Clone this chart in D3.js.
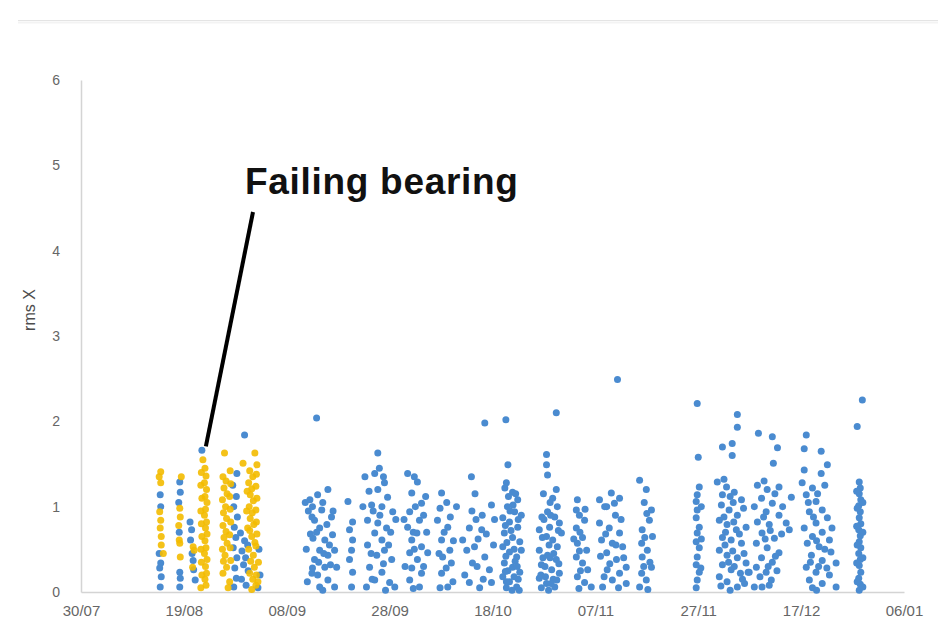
<!DOCTYPE html>
<html>
<head>
<meta charset="utf-8">
<script src="https://cdn.jsdelivr.net/npm/d3@7"></script>
<style>
  html, body { margin: 0; padding: 0; background: #ffffff; }
  svg { display: block; }
</style>
</head>
<body>
<svg id="chart" width="938" height="634"></svg>
<script>
// Measurement window: days counted from 30/07
const startDate = "2015-07-30";
const endDate = "2016-01-06";
const tickDates = ["2015-07-30", "2015-08-19", "2015-09-08", "2015-09-28", "2015-10-18",
                   "2015-11-07", "2015-11-27", "2015-12-17", "2016-01-06"];
const yTicks = [0, 1, 2, 3, 4, 5, 6];
const yLabel = "rms X";
const annotationText = "Failing bearing";

// Failing bearing readings: [day after start, rms X]
const failingPoints = [
  [15.5,1.41],[15.5,1.28],[15.3,0.94],[15.5,0.84],[15.4,0.75],[15.6,0.55],
  [15.2,1.35],[15.6,0.65],[16.0,0.45],
  [19.2,0.98],[19.3,0.88],[19.1,0.61],[19.2,0.57],[19.3,0.41],[19.5,1.35],[19.0,0.78],
  [21.8,0.53],[22.0,0.49],[21.7,0.29],
  [23.7,1.55],[24.1,1.45],[24.3,1.36],[24.0,1.28],[24.4,1.20],[24.1,1.12],[24.5,1.05],
  [24.2,0.97],[24.0,0.90],[24.4,0.82],[24.2,0.75],[24.5,0.68],[24.1,0.60],[24.3,0.52],
  [24.0,0.45],[24.5,0.38],[24.2,0.30],[24.4,0.22],[24.1,0.15],[24.3,0.08],
  [23.4,1.40],[23.3,1.25],[23.5,1.10],[23.3,0.95],[23.4,0.80],[23.5,0.65],[23.3,0.50],
  [23.4,0.35],[23.5,0.20],[23.3,0.05],
  [27.9,1.63],[27.6,1.35],[28.2,1.30],[27.8,1.22],[28.4,1.15],[27.5,1.08],[28.1,1.00],
  [27.7,0.93],[28.3,0.86],[27.6,0.78],[28.2,0.71],[27.8,0.64],[28.4,0.57],[27.5,0.50],
  [28.0,0.43],[27.7,0.36],[28.3,0.29],[27.6,0.22],
  [29.0,1.42],[29.1,1.27],[28.9,1.12],[29.0,0.97],[29.1,0.82],[28.9,0.67],[29.0,0.52],
  [29.1,0.37],[28.9,0.12],[28.6,0.05],
  [33.8,1.63],[31.5,1.51],[34.2,1.49],[32.8,1.42],[33.4,1.35],[32.6,1.28],[33.2,1.21],
  [32.9,1.14],[33.5,1.07],[32.7,1.00],[33.3,0.93],[32.9,0.86],[33.6,0.79],[32.8,0.72],
  [33.2,0.65],[33.8,0.58],[32.6,0.50],[33.5,0.43],[33.0,0.36],[33.7,0.29],[32.8,0.22],
  [33.4,0.15],[34.0,0.08],[33.2,0.03],[34.5,0.35],[34.4,0.12],
  [34.1,1.38],[34.0,1.24],[34.2,1.10],[34.0,0.96],[34.1,0.82],[34.2,0.68],[34.0,0.54],
  [34.1,0.20],[32.3,1.18],[32.2,0.95],[32.4,0.75]
];

// Healthy bearings, August run
const healthyAug = [
  [15.4,1.14],[15.5,0.34],[15.3,0.28],[15.6,0.18],[15.4,0.06],[15.5,1.00],[15.2,0.45],
  [19.2,1.29],[19.3,1.17],[19.1,0.70],[19.2,0.23],[19.3,0.16],[19.2,0.06],[19.0,1.05],
  [21.2,0.82],[21.5,0.73],[21.3,0.61],[21.8,0.37],[21.9,0.26],[22.2,0.14],[21.6,0.45],
  [23.5,1.66],[30.3,1.39],[31.8,1.84],
  [29.5,1.25],[30.2,1.12],[29.7,1.00],[30.4,0.88],[29.8,0.76],[30.1,0.64],[29.6,0.52],
  [30.3,0.40],[29.9,0.28],[30.2,0.16],[29.7,0.06],
  [31.0,0.69],[31.8,0.60],[32.4,0.55],[31.3,0.48],[32.0,0.40],[31.6,0.32],[32.5,0.25],
  [31.2,0.15],[32.1,0.08],[34.6,0.50],[34.8,0.20],[34.4,0.05]
];

// Healthy bearings, September
const healthySep = [
  [45.8,2.04],[43.6,1.05],[43.8,0.50],[44.0,0.12],
  [44.5,1.08],[46.0,1.14],[48.0,1.20],[46.8,0.96],[48.7,0.88],[45.4,0.84],[46.4,0.75],
  [45.1,0.63],[47.4,0.61],[48.9,0.67],[46.4,0.49],[48.0,0.43],[45.4,0.38],[47.4,0.29],
  [46.0,0.20],[48.0,0.14],[49.3,0.06],[46.4,0.06],[44.9,0.22],[49.7,0.29],[49.3,0.49],
  [44.9,0.88],[47.8,0.79],
  [44.2,0.95],[45.0,1.00],[47.0,1.05],[45.8,0.70],[47.2,0.45],[48.5,0.32],[45.0,0.28],
  [47.0,0.02],[49.0,0.95],[46.2,0.35],[48.3,0.55],[44.6,0.68],
  [51.9,1.06],[52.8,0.82],[52.2,0.73],[52.8,0.61],[52.6,0.49],[52.2,0.38],[52.8,0.23],[52.6,0.06],
  [57.7,1.63],[55.2,1.35],[57.1,1.39],[59.0,1.28],[57.7,1.20],[59.6,1.11],[56.5,1.02],
  [58.5,1.00],[60.6,0.94],[55.7,0.84],[57.7,0.81],[59.4,0.75],[57.1,0.69],[58.5,0.61],
  [55.7,0.55],[59.0,0.49],[57.5,0.43],[60.4,0.38],[56.1,0.29],[58.5,0.23],[57.1,0.14],
  [60.0,0.11],[55.5,0.06],[61.0,0.06],[58.1,0.90],
  [56.0,1.18],[58.8,1.35],[56.8,0.95],[60.2,0.70],[59.8,0.55],[56.4,0.45],[58.8,0.33],
  [61.2,0.85],[56.6,0.15],[59.2,0.02],[58.0,1.45],[54.8,1.00]
];

// Healthy bearings, early-to-mid October
const healthyOct = [
  [63.5,1.39],[65.4,1.29],[64.3,1.16],[66.2,1.04],[63.9,0.94],[65.8,0.84],[63.5,0.76],
  [65.3,0.69],[64.3,0.61],[66.2,0.53],[63.9,0.46],[65.4,0.38],[64.3,0.28],[66.2,0.22],
  [63.9,0.14],[65.8,0.06],[67.2,0.70],[67.4,0.46],
  [64.8,1.35],[65.0,1.00],[64.6,0.70],[66.6,0.90],[64.8,0.50],[66.6,0.30],[64.6,0.04],
  [67.0,1.12],[62.8,0.85],[63.0,0.30],
  [70.1,1.16],[71.1,1.05],[69.3,0.84],[71.3,0.76],[70.1,0.61],[71.7,0.49],[70.3,0.41],
  [72.0,0.34],[70.1,0.22],[71.3,0.06],
  [69.8,0.98],[71.8,0.88],[70.6,0.70],[72.4,0.60],[69.6,0.45],[71.0,0.28],[72.3,0.12],
  [69.8,0.05],[73.0,1.00],
  [78.5,1.98],[75.9,1.35],[79.8,1.02],[75.5,0.75],[77.9,0.73],[75.0,0.49],[76.5,0.53],
  [76.1,0.34],[78.5,0.41],[79.4,0.26],[75.5,0.11],[79.8,0.11],[74.2,0.61],[74.6,0.20],
  [77.5,0.05],[78.0,0.90],
  [76.8,0.85],[77.2,0.62],[76.0,0.95],[78.8,0.68],[77.0,0.30],[80.2,0.55],[78.2,0.15],
  [80.4,0.85],[76.6,1.15],
  [82.6,2.02],[83.0,1.49],[82.7,1.28],[83.9,1.17],[84.9,1.08],[82.9,1.00],[84.3,0.94],
  [82.0,0.87],[83.3,0.82],[84.9,0.76],[82.3,0.69],[83.9,0.64],[85.3,0.59],[82.0,0.53],
  [83.3,0.47],[84.7,0.41],[82.3,0.34],[83.9,0.29],[85.3,0.23],[82.0,0.18],[83.3,0.12],
  [84.7,0.06],[82.7,0.05],[85.6,0.90],[85.6,0.49],[83.1,1.12],[84.0,1.02],[83.6,0.72],
  [82.8,0.58],[84.4,0.36],[83.0,0.25],[85.0,0.15],[83.8,0.02],
  [82.4,1.22],[84.5,1.15],[83.4,0.95],[85.0,0.85],[82.5,0.78],[84.2,0.50],[82.6,0.42],
  [84.8,0.30],[82.5,0.24],[84.2,0.18],[82.7,0.12],[85.2,0.02]
];

// Healthy bearings, late October to mid November
const healthyNov = [
  [92.4,2.10],[90.5,1.61],[90.5,1.49],[90.7,1.37],
  [92.4,1.20],[91.7,1.10],[92.6,1.00],[90.7,0.94],[89.1,0.73],[92.1,0.88],[93.0,0.81],
  [91.1,0.76],[89.7,0.64],[91.7,0.61],[92.6,0.53],[89.1,0.49],[90.7,0.43],[92.4,0.38],
  [89.5,0.32],[91.5,0.26],[93.0,0.22],[89.1,0.16],[90.5,0.10],[92.1,0.06],[89.5,0.05],
  [93.4,0.69],[90.0,0.85],[91.0,0.55],[90.2,0.30],[91.8,0.15],[90.9,0.02],[91.2,1.05],[89.8,0.40],
  [89.9,1.15],[91.3,0.90],[92.8,0.72],[89.6,0.88],[91.9,0.45],[90.5,0.65],[92.9,0.33],
  [89.4,0.20],[91.2,0.40],[92.5,0.14],[90.3,0.18],[91.4,0.10],
  [96.5,1.08],[96.3,0.96],[97.9,0.84],[96.3,0.75],[97.5,0.64],[96.5,0.57],[98.3,0.49],
  [96.3,0.41],[97.5,0.34],[98.5,0.26],[96.5,0.18],[97.9,0.11],[99.2,0.06],
  [96.9,0.90],[97.0,0.70],[96.9,0.48],[97.1,0.25],[96.8,0.04],[98.0,0.97],[95.8,0.62],
  [104.3,2.49],[100.8,1.08],[103.1,1.16],[104.7,1.10],[102.2,1.00],[103.7,1.04],[100.8,0.81],
  [102.7,0.75],[104.7,0.69],[101.2,0.61],[103.3,0.57],[105.3,0.53],[102.2,0.46],[104.1,0.38],
  [106.0,0.29],[102.3,0.26],[104.7,0.22],[103.3,0.14],[106.0,0.10],[101.4,0.06],
  [101.8,1.00],[103.9,0.90],[102.0,0.68],[104.0,0.55],[101.0,0.42],[105.5,0.40],[102.8,0.33],
  [104.5,0.05],[101.7,0.18],[105.0,0.85],
  [108.6,1.31],[109.9,1.20],[110.5,0.84],[109.1,0.73],[111.1,0.65],[109.0,0.57],[110.1,0.49],
  [109.1,0.41],[110.9,0.29],[109.0,0.22],[109.9,0.14],[108.6,0.06],[110.9,0.96],
  [109.5,1.05],[110.0,0.92],[109.6,0.64],[110.6,0.35],[109.4,0.30],[110.2,0.03]
];

// Healthy bearings, late November to end of December
const healthyDec = [
  [119.8,2.21],[120.0,1.58],
  [120.2,1.23],[119.8,1.14],[119.6,1.06],[119.8,0.96],[119.6,0.87],[120.2,0.76],[119.8,0.69],
  [119.6,0.59],[120.2,0.52],[119.8,0.41],[119.6,0.32],[120.2,0.23],[119.8,0.14],[119.6,0.05],
  [120.6,1.00],[120.6,0.62],[120.5,0.28],
  [127.6,2.08],[127.6,1.93],[124.7,1.70],[126.6,1.74],[126.6,1.60],
  [123.7,1.29],[125.5,1.23],[124.7,1.14],[127.0,1.17],[128.4,1.08],[124.5,1.02],[126.0,0.96],
  [127.6,0.90],[124.1,0.84],[125.6,0.79],[127.4,0.73],[129.3,0.76],[124.7,0.64],[126.4,0.61],
  [128.4,0.57],[124.1,0.49],[125.6,0.43],[127.6,0.40],[129.3,0.34],[124.7,0.32],[126.4,0.26],
  [124.1,0.18],[125.6,0.12],[127.6,0.06],[129.9,0.23],[126.8,1.05],[125.0,0.88],[128.0,0.68],
  [125.2,0.55],[127.0,0.30],[128.6,0.15],[126.2,0.02],
  [125.0,1.32],[126.2,1.12],[128.8,0.98],[126.9,0.82],[125.3,0.70],[126.7,0.48],[128.9,0.45],
  [125.9,0.35],[128.2,0.22],[124.4,0.07],[129.0,0.10],
  [131.7,1.86],[134.4,1.82],[135.4,1.69],[134.6,1.51],
  [131.5,1.25],[133.4,1.20],[135.7,1.23],[132.3,1.10],[134.4,1.04],[130.9,1.00],[133.2,0.94],
  [135.7,0.90],[131.5,0.82],[133.8,0.79],[137.1,0.81],[132.4,0.69],[134.8,0.63],[131.3,0.57],
  [133.4,0.52],[135.7,0.46],[132.3,0.40],[134.4,0.35],[131.3,0.29],[133.2,0.23],[129.7,0.23],
  [132.0,0.18],[134.2,0.14],[132.4,0.06],[130.9,0.06],[137.7,0.73],[138.1,1.11],
  [132.8,1.30],[134.9,1.15],[132.7,0.88],[134.0,0.72],[136.2,0.68],[133.0,0.62],[135.0,0.42],
  [133.6,0.30],[135.3,0.25],[133.8,0.08],[136.4,1.00],
  [141.0,1.84],[140.6,1.68],[143.9,1.65],[145.1,1.49],[140.6,1.43],[143.9,1.39],
  [140.2,1.28],[142.2,1.22],[141.0,1.14],[142.9,1.06],[144.1,0.96],[141.6,0.94],[145.1,0.87],
  [142.9,0.81],[140.6,0.75],[144.1,0.70],[142.2,0.65],[145.5,0.61],[141.2,0.57],[143.5,0.53],
  [145.8,0.47],[142.0,0.43],[144.1,0.37],[146.8,0.34],[141.0,0.29],[142.9,0.23],[145.5,0.20],
  [141.6,0.14],[144.1,0.10],[146.8,0.06],[142.2,0.05],
  [141.4,1.05],[143.2,1.15],[142.4,0.88],[143.0,0.60],[144.6,0.50],[141.8,0.35],[143.4,0.30],
  [145.0,0.28],[143.0,0.02],[146.0,0.75],[144.6,1.25],
  [151.9,2.25],[150.9,1.94],
  [151.3,1.29],[151.5,1.22],[151.3,1.15],[151.6,1.08],[151.2,1.01],[151.5,0.94],[151.3,0.87],
  [151.6,0.80],[151.2,0.73],[151.5,0.66],[151.3,0.59],[151.6,0.52],[151.2,0.45],[151.5,0.38],
  [151.3,0.31],[151.6,0.23],[151.2,0.16],[151.5,0.09],[151.3,0.02],
  [150.8,1.18],[150.9,0.98],[150.8,0.77],[150.9,0.55],[150.8,0.34],[150.9,0.12],
  [152.0,1.05],[152.0,0.70],[152.0,0.40],[152.0,0.06]
];

// Point the annotation leader at this reading
const annotationTarget = [23.5, 1.66];

const healthyPoints = [].concat(healthyAug, healthySep, healthyOct, healthyNov, healthyDec);

const parse = d3.utcParse("%Y-%m-%d");
const t0 = parse(startDate);
const toDate = day => new Date(t0.getTime() + day * 864e5);

const svg = d3.select("#chart");
const margin = { left: 81, right: 34, top: 80, bottom: 42 };
const W = 938, H = 634;

const x = d3.scaleUtc()
  .domain([t0, parse(endDate)])
  .range([margin.left, W - margin.right]);
const y = d3.scaleLinear()
  .domain([0, 6])
  .range([H - margin.bottom, margin.top]);

// faint frame edge at the top of the chart area
svg.append("line")
  .attr("x1", 18).attr("x2", 938).attr("y1", 20.5).attr("y2", 20.5)
  .attr("stroke", "#e4e4e4").attr("stroke-width", 1);
svg.append("line")
  .attr("x1", 18).attr("x2", 938).attr("y1", 22.5).attr("y2", 22.5)
  .attr("stroke", "#f3f3f3").attr("stroke-width", 2);

const axisColor = "#d4d4d4";
const textColor = "#666666";
const fontFamily = "'Liberation Sans', Arial, sans-serif";

// y axis
const yAxis = svg.append("g")
  .attr("transform", `translate(${margin.left},0)`)
  .call(d3.axisLeft(y).tickValues(yTicks).tickSize(0).tickPadding(21).tickFormat(d3.format("d")));
yAxis.select(".domain").attr("stroke", axisColor).attr("stroke-width", 1.5);
yAxis.selectAll("text").attr("fill", textColor).style("font", `14px ${fontFamily}`);

// x axis
const xAxis = svg.append("g")
  .attr("transform", `translate(0,${y(0)})`)
  .call(d3.axisBottom(x).tickValues(tickDates.map(parse)).tickSize(0).tickPadding(13)
    .tickFormat(d3.utcFormat("%d/%m")));
xAxis.select(".domain").attr("stroke", axisColor).attr("stroke-width", 1.5);
xAxis.selectAll("text").attr("fill", textColor).style("font", `15px ${fontFamily}`);

// y axis title
svg.append("text")
  .attr("transform", `translate(35,310) rotate(-90)`)
  .attr("text-anchor", "middle")
  .attr("fill", "#4d4d4d")
  .style("font", `16px ${fontFamily}`)
  .text(yLabel);

const plot = svg.append("g");

plot.selectAll("circle.healthy")
  .data(healthyPoints)
  .join("circle")
  .attr("class", "healthy")
  .attr("cx", d => x(toDate(d[0])))
  .attr("cy", d => y(d[1]))
  .attr("r", 3.5)
  .attr("fill", "#4a8bd0");

plot.selectAll("circle.failing")
  .data(failingPoints)
  .join("circle")
  .attr("class", "failing")
  .attr("cx", d => x(toDate(d[0])))
  .attr("cy", d => y(d[1]))
  .attr("r", 3.5)
  .attr("fill", "#f3bb00")
  .attr("fill-opacity", 0.9);

// annotation
svg.append("line")
  .attr("x1", 253).attr("y1", 212)
  .attr("x2", x(toDate(annotationTarget[0])) + 4)
  .attr("y2", y(annotationTarget[1]) - 4)
  .attr("stroke", "#000").attr("stroke-width", 4);

svg.append("text")
  .attr("x", 245).attr("y", 194)
  .attr("fill", "#111")
  .attr("letter-spacing", 0.7)
  .style("font", `bold 37px ${fontFamily}`)
  .text(annotationText);
</script>
</body>
</html>
